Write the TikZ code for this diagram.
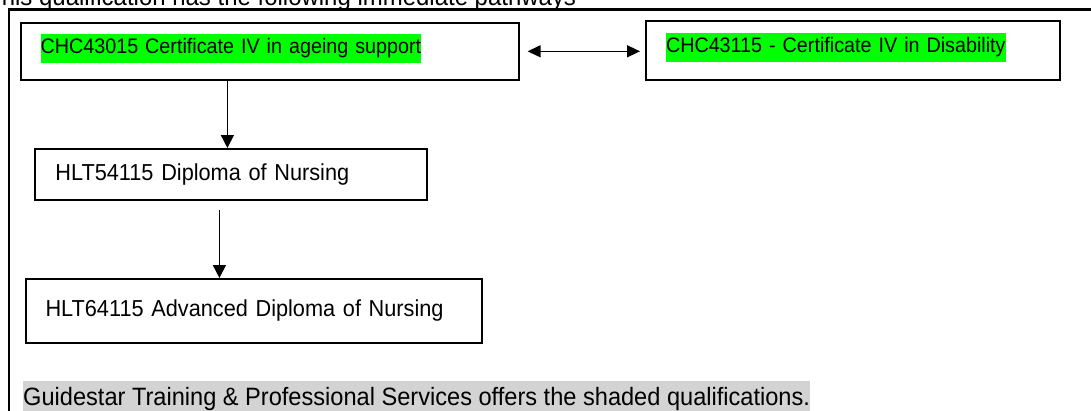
\documentclass[tikz,border=0pt]{standalone}
\usepackage{fontspec}
\setmainfont{Liberation Sans}[FakeStretch=0.94]
\usetikzlibrary{arrows.meta}
\definecolor{hlgreen}{HTML}{00FF00}
\definecolor{shadegray}{HTML}{D3D3D3}
\newcommand{\hlg}[1]{{\setlength{\fboxsep}{0pt}\colorbox{hlgreen}{\rule[-9.4pt]{0pt}{29.4pt}#1}\rule[-15.4pt]{0pt}{0pt}}}
\tikzset{
  qbox/.style={draw,line width=2pt,inner xsep=20pt,inner ysep=0pt,align=left,anchor=north west},
  arr/.style={line width=1.5pt,-{Triangle[length=13pt,width=13pt]}},
  arrboth/.style={line width=1.5pt,{Triangle[length=13pt,width=12pt]}-{Triangle[length=13pt,width=12pt]}},
}
\begin{document}
\begin{tikzpicture}[x=1pt,y=-1pt]
  \useasboundingbox (0,0) rectangle (1091,410);
  \draw[line width=2.6pt] (9,420) -- (9,9.5) -- (1100,9.5);
  \node[anchor=base west,inner sep=0pt,font=\fontsize{25.5}{30}\selectfont] (intro) at (-13,5) {This qualification has the following immediate pathways};
  \node[qbox,text width=458pt,minimum height=57pt,font=\fontsize{21}{25}\selectfont] (ageing) at (19.6,21.8) {\hlg{CHC43015 Certificate IV in ageing support}};
  \node[qbox,text width=374pt,minimum height=59pt,font=\fontsize{21}{25}\selectfont] (disab) at (645,20) {\hlg{CHC43115 - Certificate IV in Disability}};
  \node[qbox,text width=352pt,minimum height=51pt,font=\fontsize{23.1}{28}\selectfont] (dipl) at (34.4,148) {HLT54115 Diploma of Nursing};
  \node[qbox,text width=416pt,minimum height=64pt,font=\fontsize{23.1}{28}\selectfont] (adv) at (24.5,278) {HLT64115 Advanced Diploma of Nursing};
  \node[anchor=base west,fill=shadegray,inner sep=0pt,text height=24pt,text depth=8pt,font=\fontsize{25.1}{30}\selectfont] (note) at (23,405) {Guidestar Training \& Professional Services offers the shaded qualifications.};
  \draw[arrboth] ([xshift=8pt]ageing.east) -- ([xshift=-5pt]disab.west |- ageing.east);
  \draw[arr] ([xshift=-4pt]dipl.north |- ageing.south) -- ([xshift=-4pt]dipl.north);
  \draw[arr] ([xshift=-12pt,yshift=-9pt]dipl.south) -- ([xshift=-12pt]dipl.south |- adv.north);
\end{tikzpicture}
\end{document}
